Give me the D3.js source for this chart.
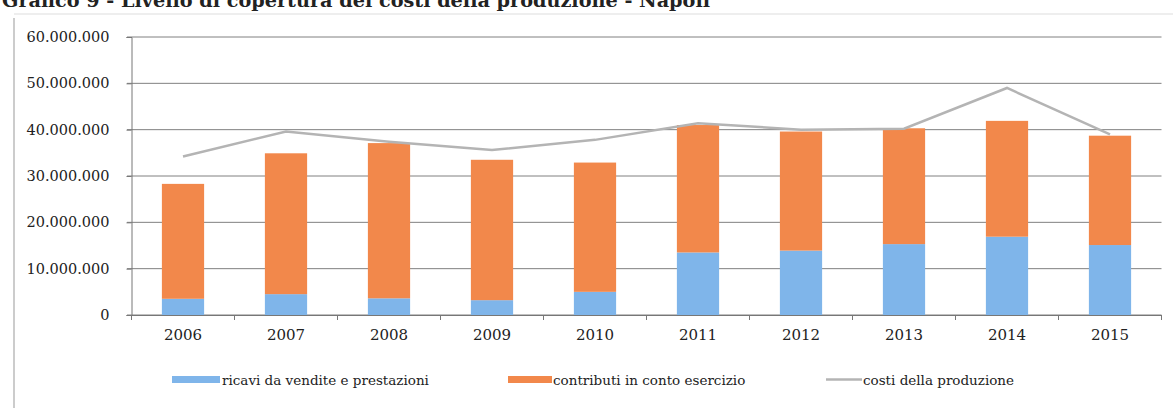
<!DOCTYPE html>
<html>
<head>
<meta charset="utf-8">
<script src="https://cdn.jsdelivr.net/npm/d3@7"></script>
<style>
  html, body { margin: 0; padding: 0; background: #fff; }
  svg { display: block; }
  text { font-family: "DejaVu Serif", "Liberation Serif", serif; fill: #222; }
</style>
</head>
<body>
<svg id="chart" width="1173" height="408"></svg>
<script>
const years = ["2006", "2007", "2008", "2009", "2010", "2011", "2012", "2013", "2014", "2015"];
const ricavi = [3.5e6, 4.5e6, 3.6e6, 3.2e6, 5.0e6, 13.5e6, 13.9e6, 15.3e6, 16.9e6, 15.1e6];
const contributi = [24.8e6, 30.4e6, 33.5e6, 30.3e6, 27.9e6, 27.5e6, 25.7e6, 25.0e6, 25.0e6, 23.6e6];
const costi = [34.2e6, 39.6e6, 37.4e6, 35.6e6, 37.8e6, 41.4e6, 40.0e6, 40.2e6, 49.0e6, 39.0e6];
const yTicks = [0, 10e6, 20e6, 30e6, 40e6, 50e6, 60e6];
const seriesNames = ["ricavi da vendite e prestazioni", "contributi in conto esercizio", "costi della produzione"];
const titleText = "Grafico 9 - Livello di copertura dei costi della produzione - Napoli";

const colors = { ricavi: "#7fb5ea", contributi: "#f2884b", costi: "#b4b4b4" };

const svg = d3.select("#chart");

// Frame of the scanned figure
svg.append("line").attr("x1", 14).attr("x2", 14).attr("y1", 18).attr("y2", 408)
    .attr("stroke", "#999").attr("stroke-width", 1);
svg.append("line").attr("x1", 14).attr("x2", 1173).attr("y1", 14).attr("y2", 14)
    .attr("stroke", "#ddd").attr("stroke-width", 1);

// Title (cut at the top edge, as in the scan)
svg.append("text")
    .attr("x", 2).attr("y", 7)
    .style("font-size", "18px")
    .style("font-weight", "bold")
    .attr("textLength", 708)
    .attr("lengthAdjust", "spacingAndGlyphs")
    .text(titleText);

const x = d3.scaleBand().domain(years).range([131.5, 1161.5]).paddingInner(0.59).paddingOuter(0.295);
const y = d3.scaleLinear().domain([0, 60e6]).range([315, 37]);
const fmt = v => d3.format(",")(v).replace(/,/g, ".");

// Gridlines
svg.append("g")
    .selectAll("line")
    .data(yTicks)
    .join("line")
    .attr("x1", 127).attr("x2", 1161.5)
    .attr("y1", d => y(d)).attr("y2", d => y(d))
    .attr("stroke", "#808080").attr("stroke-width", 1);

// Y axis
const yAxis = svg.append("g")
    .attr("transform", "translate(131.5,0)")
    .call(d3.axisLeft(y).tickValues(yTicks).tickFormat(fmt).tickSize(5).tickPadding(17));
yAxis.select(".domain").attr("stroke", "#777");
yAxis.selectAll(".tick line").attr("stroke", "#777");
yAxis.selectAll("text").style("font-size", "14.5px").attr("fill", "#222")
    .style("font-family", "'DejaVu Serif', serif");

// Stacked bars
const stackData = years.map((yr, i) => ({ year: yr, ricavi: ricavi[i], contributi: contributi[i] }));
const stack = d3.stack().keys(["ricavi", "contributi"])(stackData);

svg.append("g")
    .selectAll("g")
    .data(stack)
    .join("g")
    .attr("fill", d => colors[d.key])
    .selectAll("rect")
    .data(d => d)
    .join("rect")
    .attr("x", d => x(d.data.year))
    .attr("width", x.bandwidth())
    .attr("y", d => y(d[1]))
    .attr("height", d => y(d[0]) - y(d[1]));

// X axis
const xAxis = svg.append("g")
    .attr("transform", "translate(0,315)")
    .call(d3.axisBottom(x).tickSize(0).tickPadding(14));
xAxis.select(".domain").attr("stroke", "#777");
xAxis.selectAll("text").style("font-size", "15px").attr("fill", "#222")
    .style("font-family", "'DejaVu Serif', serif");
// ticks between categories
const step = x.step();
svg.append("g")
    .selectAll("line")
    .data(d3.range(years.length + 1))
    .join("line")
    .attr("x1", i => 131.5 + i * step).attr("x2", i => 131.5 + i * step)
    .attr("y1", 315).attr("y2", 320)
    .attr("stroke", "#777");

// Line
const line = d3.line()
    .x((d, i) => x(years[i]) + x.bandwidth() / 2)
    .y(d => y(d));
svg.append("path")
    .datum(costi)
    .attr("fill", "none")
    .attr("stroke", colors.costi)
    .attr("stroke-width", 2.5)
    .attr("d", line);

// Legend
const legend = svg.append("g").style("font-size", "13.5px");
const legItems = [
    { name: seriesNames[0], type: "rect", color: colors.ricavi, x0: 172, w: 48, tx: 222 },
    { name: seriesNames[1], type: "rect", color: colors.contributi, x0: 508, w: 44, tx: 553 },
    { name: seriesNames[2], type: "line", color: colors.costi, x0: 826, w: 36, tx: 863 }
];
legItems.forEach(it => {
    if (it.type === "rect") {
        legend.append("rect").attr("x", it.x0).attr("y", 376).attr("width", it.w).attr("height", 7)
            .attr("fill", it.color);
    } else {
        legend.append("line").attr("x1", it.x0).attr("x2", it.x0 + it.w).attr("y1", 379.5).attr("y2", 379.5)
            .attr("stroke", it.color).attr("stroke-width", 2.5);
    }
    legend.append("text").attr("x", it.tx).attr("y", 384.5).text(it.name);
});
</script>
</body>
</html>
